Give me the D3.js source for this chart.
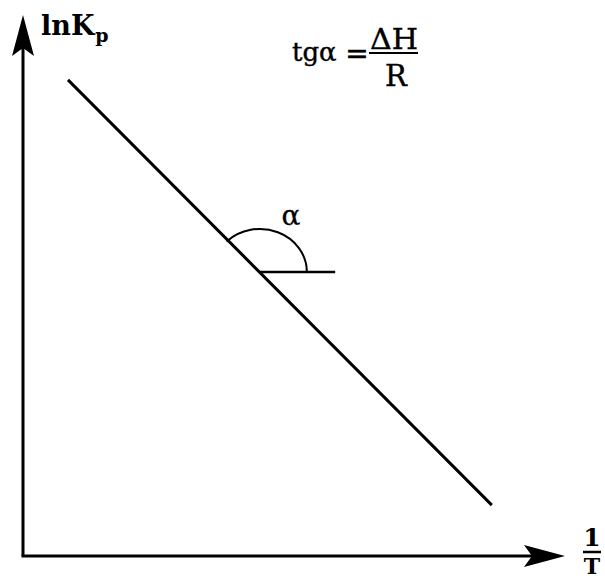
<!DOCTYPE html>
<html><head><meta charset="utf-8">
<script src="https://cdn.jsdelivr.net/npm/d3@7"></script>
<style>html,body{margin:0;padding:0;background:#fff;}svg{display:block;}</style>
</head><body>
<script>
// Data (abstract units 0..100)
const lineX = [8.3, 86.5];
const lineY = [88.0, 9.4];
const angleY = [52.5];         // height of the horizontal reference segment
const angleX = [43.7, 57.6];   // horizontal reference segment extent
const axisLabels = ["lnK", "p", "1", "T"];
const formula = ["tgα", "=", "ΔH", "R"];
const angleLabel = ["α"];

const W = 605, H = 578;
const x = d3.scaleLinear().domain([0, 100]).range([23, 565]);
const y = d3.scaleLinear().domain([0, 100]).range([556, 15]);

const svg = d3.select("body").append("svg").attr("width", W).attr("height", H);
const font = "'DejaVu Serif', serif";

// axes
svg.append("line").attr("x1", x(0)).attr("y1", y(0)).attr("x2", x(0)).attr("y2", y(100) + 20)
  .attr("stroke", "#000").attr("stroke-width", 3);
svg.append("line").attr("x1", x(0) - 1.5).attr("y1", y(0)).attr("x2", x(100) - 20).attr("y2", y(0))
  .attr("stroke", "#000").attr("stroke-width", 3);
// arrowheads
const ay = y(100), ax = x(0);
svg.append("path").attr("d", `M${ax},${ay} L${ax + 11},${ay + 41} L${ax},${ay + 33} L${ax - 11},${ay + 41} Z`).attr("fill", "#000");
const bx = x(100), by = y(0);
svg.append("path").attr("d", `M${bx},${by} L${bx - 41},${by - 11} L${bx - 33},${by} L${bx - 41},${by + 11} Z`).attr("fill", "#000");

// main line
svg.append("line").attr("x1", x(lineX[0])).attr("y1", y(lineY[0])).attr("x2", x(lineX[1])).attr("y2", y(lineY[1]))
  .attr("stroke", "#000").attr("stroke-width", 3);
// horizontal segment
svg.append("line").attr("x1", x(angleX[0])).attr("y1", y(angleY[0])).attr("x2", x(angleX[1])).attr("y2", y(angleY[0]))
  .attr("stroke", "#000").attr("stroke-width", 2.5);
// arc (ellipse) from horizontal to the line
const cx = x(angleX[0]), cy = y(angleY[0]);
const rx = 47, ry = 43;
const a1 = 135 * Math.PI / 180;
const sx = cx + rx, sy = cy;
const ex = cx + rx * Math.cos(a1), ey = cy - ry * Math.sin(a1);
svg.append("path").attr("d", `M${sx},${sy} A${rx},${ry} 0 0 0 ${ex},${ey}`)
  .attr("fill", "none").attr("stroke", "#000").attr("stroke-width", 2);

// y-axis label
const yl = svg.append("text").attr("x", 41).attr("y", 35).attr("font-family", font).attr("font-weight", "bold")
  .attr("font-size", 27).attr("fill", "#000");
yl.append("tspan").text(axisLabels[0]);
yl.append("tspan").attr("dy", 7).attr("dx", 1).attr("font-size", 19).text(axisLabels[1]);

// x-axis label 1/T
svg.append("text").attr("x", 592).attr("y", 546).attr("text-anchor", "middle").attr("font-family", font)
  .attr("font-weight", "bold").attr("font-size", 25).text(axisLabels[2]);
svg.append("line").attr("x1", 583).attr("x2", 601).attr("y1", 552).attr("y2", 552).attr("stroke", "#000").attr("stroke-width", 2.5);
svg.append("text").attr("x", 592).attr("y", 574).attr("text-anchor", "middle").attr("font-family", font)
  .attr("font-weight", "bold").attr("font-size", 22).text(axisLabels[3]);

// formula
svg.append("text").attr("x", 292).attr("y", 61).attr("font-family", font).attr("font-size", 26)
  .attr("stroke", "#000").attr("stroke-width", 0.4).text(formula[0]);
svg.append("text").attr("x", 357).attr("y", 63).attr("text-anchor", "middle").attr("font-family", font).attr("font-size", 28)
  .attr("stroke", "#000").attr("stroke-width", 0.4).text(formula[1]);
svg.append("text").attr("x", 394).attr("y", 49).attr("text-anchor", "middle").attr("font-family", font).attr("font-size", 27)
  .attr("textLength", 48).attr("lengthAdjust", "spacingAndGlyphs")
  .attr("stroke", "#000").attr("stroke-width", 0.4).text(formula[2]);
svg.append("line").attr("x1", 369).attr("x2", 418).attr("y1", 53).attr("y2", 53).attr("stroke", "#000").attr("stroke-width", 2);
svg.append("text").attr("x", 396).attr("y", 86).attr("text-anchor", "middle").attr("font-family", font).attr("font-size", 29)
  .attr("stroke", "#000").attr("stroke-width", 0.4).text(formula[3]);

svg.append("text").attr("x", 291).attr("y", 225).attr("text-anchor", "middle").attr("font-family", font).attr("font-size", 28)
  .attr("stroke", "#000").attr("stroke-width", 0.3).text(angleLabel[0]);
</script>
</body></html>
